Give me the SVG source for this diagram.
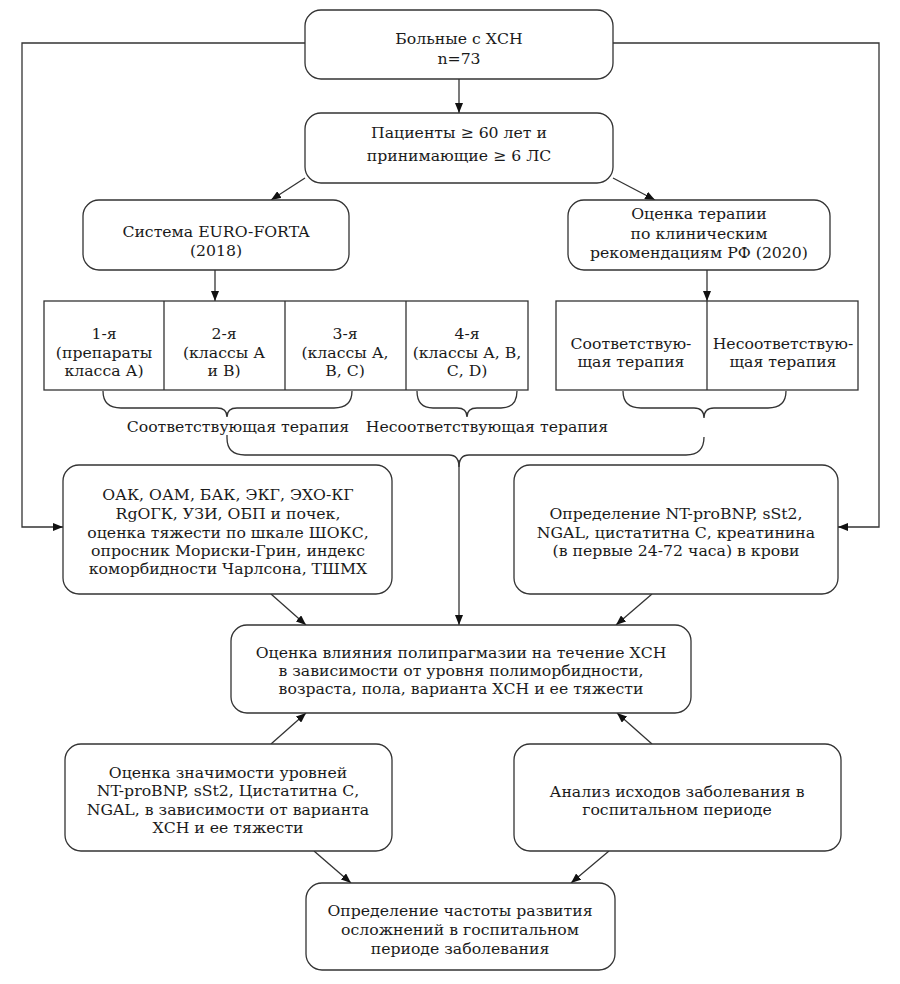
<svg xmlns="http://www.w3.org/2000/svg" width="900" height="984" viewBox="0 0 900 984">
<style>
.box{fill:#fff;stroke:#333;stroke-width:1.3}
.ln{fill:none;stroke:#333;stroke-width:1.3}
text{font-family:"DejaVu Serif","Liberation Serif",serif;font-size:15.7px;fill:#1a1a1a;text-anchor:middle}
</style>
<defs>
<marker id="ah" viewBox="0 0 10 8" refX="10" refY="4" markerWidth="10" markerHeight="8" markerUnits="userSpaceOnUse" orient="auto">
<path d="M0,0 L10,4 L0,8 Z" fill="#111"/>
</marker>
</defs>
<rect width="900" height="984" fill="#fff"/>
<g id="connectors">
<path class="ln" d="M305,43 H22 V527 H63" marker-end="url(#ah)"/>
<path class="ln" d="M613,43 H879 V527 H838" marker-end="url(#ah)"/>
<path class="ln" d="M459,79 V113" marker-end="url(#ah)"/>
<path class="ln" d="M305,178 L271,200" marker-end="url(#ah)"/>
<path class="ln" d="M613,178 L655,200" marker-end="url(#ah)"/>
<path class="ln" d="M215,270 V301" marker-end="url(#ah)"/>
<path class="ln" d="M707,270 V301" marker-end="url(#ah)"/>
<path class="ln" d="M103,391 Q103,408 121,408 H217 Q227,408 227,417 Q227,408 237,408 H334 Q352,408 352,391"/>
<path class="ln" d="M417,391 Q417,408 433,408 H457 Q467,408 467,417 Q467,408 477,408 H501 Q517,408 517,391"/>
<path class="ln" d="M623,391 Q623,408 641,408 H694 Q704,408 704,418 Q704,408 714,408 H768 Q786,408 786,391"/>
<path class="ln" d="M227,435 V438 Q227,455 245,455 H449 Q459,455 459,467 Q459,455 469,455 H686 Q704,455 704,437"/>
<path class="ln" d="M459,460 V625" marker-end="url(#ah)"/>
<path class="ln" d="M271,594 L306,625" marker-end="url(#ah)"/>
<path class="ln" d="M652,594 L616,625" marker-end="url(#ah)"/>
<path class="ln" d="M271,744 L306,713" marker-end="url(#ah)"/>
<path class="ln" d="M652,744 L617,713" marker-end="url(#ah)"/>
<path class="ln" d="M314,851 L351,883" marker-end="url(#ah)"/>
<path class="ln" d="M609,851 L571,883" marker-end="url(#ah)"/>
</g>
<g id="n1">
<rect class="box" x="305" y="10" width="308" height="69" rx="16"/>
<text x="459" y="44">Больные с ХСН</text>
<text x="459" y="64">n=73</text>
</g>
<g id="n2">
<rect class="box" x="305" y="113" width="308" height="70" rx="16"/>
<text x="459" y="138">Пациенты ≥ 60 лет и</text>
<text x="459" y="161">принимающие ≥ 6 ЛС</text>
</g>
<g id="n3">
<rect class="box" x="83" y="200" width="266" height="70" rx="16"/>
<text x="216" y="237">Система EURO-FORTA</text>
<text x="216" y="256">(2018)</text>
</g>
<g id="n4">
<rect class="box" x="568" y="200" width="262" height="70" rx="16"/>
<text x="699" y="219">Оценка терапии</text>
<text x="699" y="239">по клиническим</text>
<text x="699" y="258">рекомендациям РФ (2020)</text>
</g>
<g id="n5">
<rect class="box" x="44" y="301" width="484" height="89"/>
<path class="ln" d="M164,301 V390 M285,301 V390 M406,301 V390"/>
<text x="104" y="339">1-я</text>
<text x="104" y="358">(препараты</text>
<text x="104" y="376">класса А)</text>
<text x="224" y="339">2-я</text>
<text x="224" y="358">(классы А</text>
<text x="224" y="376">и В)</text>
<text x="345" y="339">3-я</text>
<text x="345" y="358">(классы А,</text>
<text x="345" y="376">В, С)</text>
<text x="467" y="339">4-я</text>
<text x="467" y="358">(классы А, В,</text>
<text x="467" y="376">С, D)</text>
</g>
<g id="n6">
<rect class="box" x="556" y="301" width="302" height="89"/>
<path class="ln" d="M707,301 V390"/>
<text x="631" y="349">Соответствую-</text>
<text x="631" y="367">щая терапия</text>
<text x="783" y="349">Несоответствую-</text>
<text x="783" y="367">щая терапия</text>
</g>
<g id="labels">
<text x="238" y="432">Соответствующая терапия</text>
<text x="487" y="432">Несоответствующая терапия</text>
</g>
<g id="n7">
<rect class="box" x="63" y="465" width="329" height="129" rx="16"/>
<text x="228" y="500">ОАК, ОАМ, БАК, ЭКГ, ЭХО-КГ</text>
<text x="228" y="519">RgОГК, УЗИ, ОБП и почек,</text>
<text x="228" y="538">оценка тяжести по шкале ШОКС,</text>
<text x="228" y="556">опросник Мориски-Грин, индекс</text>
<text x="228" y="574">коморбидности Чарлсона, ТШМХ</text>
</g>
<g id="n8">
<rect class="box" x="514" y="465" width="324" height="129" rx="16"/>
<text x="676" y="519">Определение NT-proBNP, sSt2,</text>
<text x="676" y="538">NGAL, цистатитна С, креатинина</text>
<text x="676" y="556">(в первые 24-72 часа) в крови</text>
</g>
<g id="n9">
<rect class="box" x="231" y="625" width="460" height="88" rx="16"/>
<text x="461" y="658">Оценка влияния полипрагмазии на течение ХСН</text>
<text x="461" y="676">в зависимости от уровня полиморбидности,</text>
<text x="461" y="694">возраста, пола, варианта ХСН и ее тяжести</text>
</g>
<g id="n10">
<rect class="box" x="65" y="744" width="327" height="107" rx="16"/>
<text x="228" y="778">Оценка значимости уровней</text>
<text x="228" y="796">NT-proBNP, sSt2, Цистатитна С,</text>
<text x="228" y="815">NGAL, в зависимости от варианта</text>
<text x="228" y="833">ХСН и ее тяжести</text>
</g>
<g id="n11">
<rect class="box" x="514" y="744" width="327" height="107" rx="16"/>
<text x="677" y="797">Анализ исходов заболевания в</text>
<text x="677" y="815">госпитальном периоде</text>
</g>
<g id="n12">
<rect class="box" x="306" y="883" width="309" height="87" rx="16"/>
<text x="460" y="916">Определение частоты развития</text>
<text x="460" y="935">осложнений в госпитальном</text>
<text x="460" y="954">периоде заболевания</text>
</g>
</svg>
